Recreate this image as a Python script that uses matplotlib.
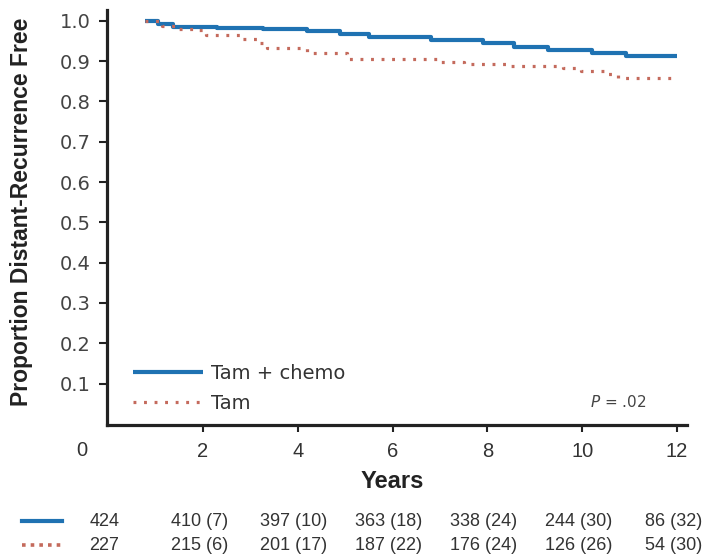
import matplotlib
matplotlib.use('Agg')
import matplotlib.pyplot as plt
import matplotlib.transforms as mtransforms
from matplotlib.lines import Line2D

# =========================================================
# DATA
# =========================================================

# Kaplan-Meier steps (years, proportion)
chemo_years = [0.78, 1.05, 1.36, 2.3, 3.26, 4.2, 4.9, 5.5, 6.8, 7.9, 8.56, 9.28, 10.2, 10.93, 12.0]
chemo_surv = [1.0, 0.992, 0.985, 0.983, 0.981, 0.975, 0.968, 0.960, 0.953, 0.944, 0.936, 0.928, 0.921, 0.913, 0.913]

tam_years = [0.78, 1.14, 1.44, 1.86, 2.07, 2.78, 3.13, 3.35, 4.2, 5.04, 7.0, 7.5, 8.5, 9.6, 9.98, 10.47, 10.76, 12.0]
tam_surv = [1.0, 0.988, 0.981, 0.977, 0.966, 0.955, 0.944, 0.933, 0.920, 0.905, 0.898, 0.892, 0.887, 0.883, 0.876, 0.868, 0.858, 0.858]

# numbers at risk (events)
risk_years = [0, 2, 4, 6, 8, 10, 12]
risk_chemo = ['424', '410 (7)', '397 (10)', '363 (18)', '338 (24)', '244 (30)', '86 (32)']
risk_tam = ['227', '215 (6)', '201 (17)', '187 (22)', '176 (24)', '126 (26)', '54 (30)']

labels = ['Tam + chemo', 'Tam']
x_ticks = [2, 4, 6, 8, 10, 12]
y_ticks = [0.1, 0.2, 0.3, 0.4, 0.5, 0.6, 0.7, 0.8, 0.9, 1.0]

BLUE = '#1f72b2'
RED = '#c46a5c'
NARROW = ['Liberation Sans', 'DejaVu Sans']

W, H = 708, 557

# =========================================================
# FIGURE
# =========================================================

fig = plt.figure(figsize=(W / 100, H / 100), dpi=100)
ax = fig.add_axes([107 / W, 1 - 425 / H, (687 - 107) / W, (425 - 10) / H])

ax.step(chemo_years, chemo_surv, where='post', color=BLUE, linewidth=3.0,
        solid_capstyle='butt', label=labels[0])
ax.step(tam_years, tam_surv, where='post', color=RED, linewidth=2.3,
        linestyle=(0, (0.9, 2.4)), label=labels[1])

ax.set_xlim(-0.025, 12.21)
ax.set_ylim(-0.003, 1.027)

for side in ['top', 'right']:
    ax.spines[side].set_visible(False)
for side in ['left', 'bottom']:
    ax.spines[side].set_linewidth(2.3)
    ax.spines[side].set_color('#222222')

ax.set_xticks(x_ticks)
ax.set_xticklabels([str(v) for v in x_ticks], fontfamily=NARROW, fontsize=14.5, color='#333333')
ax.set_yticks(y_ticks)
ax.set_yticklabels([f'{v:.1f}' for v in y_ticks], fontsize=14, color='#444444')
ax.tick_params(axis='x', direction='out', length=5, width=1.5, pad=7, color='#222222')
ax.tick_params(axis='y', direction='out', length=6, width=1.5, pad=6, color='#222222')

fig.text(82 / W, 1 - 450 / H, '0', ha='center', va='center',
         fontfamily=NARROW, fontsize=14.5, color='#333333')

fig.text(22 / W, 1 - 212 / H, 'Proportion Distant-Recurrence Free', rotation=90,
         ha='center', va='center', fontfamily=NARROW, fontweight='bold',
         fontsize=16.5, color='#222222')
fig.text(392 / W, 1 - 482 / H, 'Years', ha='center', va='center',
         fontfamily=NARROW, fontweight='bold', fontsize=17, color='#222222')

leg = ax.legend(loc='lower left', bbox_to_anchor=(0.045, 0.03), frameon=False,
                fontsize=14, handlelength=3.6, handletextpad=0.4,
                labelspacing=0.55, borderpad=0, borderaxespad=0)
for t in leg.get_texts():
    t.set_color('#333333')

fig.text(618 / W, 1 - 402 / H, r'$\it{P}$ = .02', ha='center', va='center',
         fontsize=11, color='#444444')

# =========================================================
# RISK TABLE
# =========================================================

trans = mtransforms.blended_transform_factory(ax.transData, fig.transFigure)
row_y = [1 - 521 / H, 1 - 545 / H]
for row, vals in zip(row_y, [risk_chemo, risk_tam]):
    for yr, v in zip(risk_years, vals):
        ax.text(yr - 0.08, row, v, transform=trans, ha='center', va='center',
                fontfamily=NARROW, fontsize=13, color='#333333', clip_on=False)

fig.add_artist(Line2D([22 / W, 62 / W], [row_y[0], row_y[0]], transform=fig.transFigure,
                      color=BLUE, linewidth=3.0))
fig.add_artist(Line2D([22 / W, 62 / W], [row_y[1], row_y[1]], transform=fig.transFigure,
                      color=RED, linewidth=2.6, linestyle=(0, (1, 1.4))))

fig.savefig('out.png', dpi=100)
